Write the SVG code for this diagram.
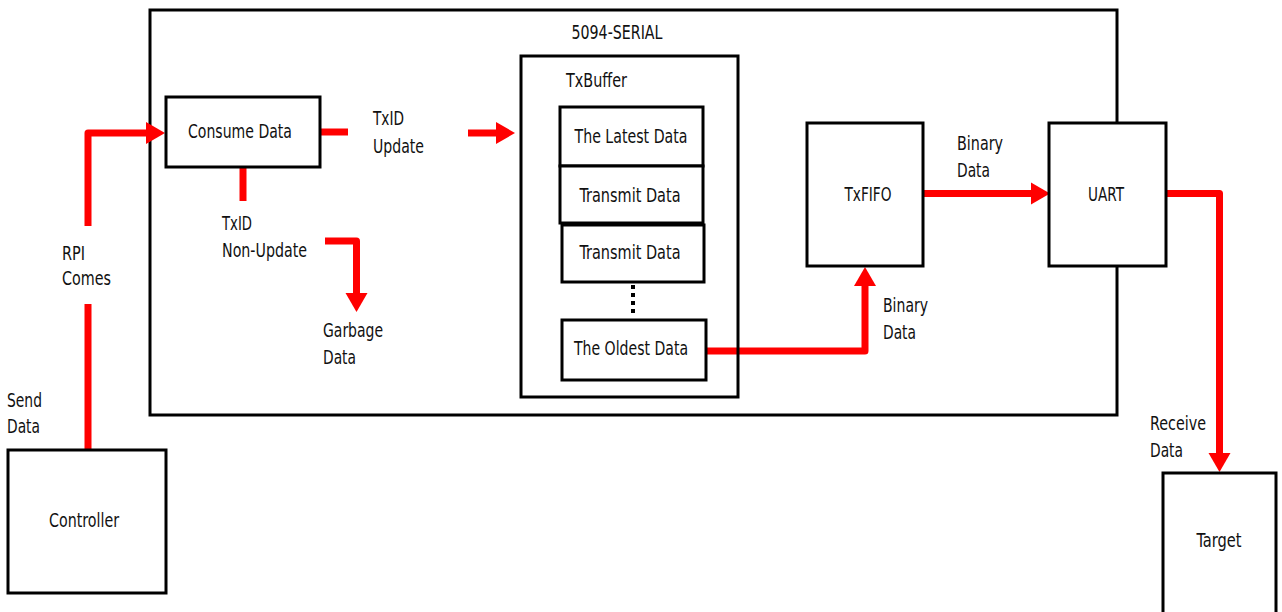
<svg xmlns="http://www.w3.org/2000/svg" width="1282" height="612" viewBox="0 0 1282 612">
  <style>
    .box { fill: #ffffff; stroke: #000000; stroke-width: 3; }
    .frame { fill: none; stroke: #000000; stroke-width: 3; }
    .lbl { font-family: "DejaVu Sans Condensed", "DejaVu Sans", "Liberation Sans", sans-serif; font-stretch: condensed; font-size: 20px; fill: #111111; }
    .ctr { text-anchor: middle; }
    .wire { fill: none; stroke: #ff0000; stroke-width: 7; stroke-linejoin: round; }
    .dots { fill: none; stroke: #000000; stroke-width: 4; stroke-dasharray: 4 4; }
  </style>
  <defs>
    <marker id="ah" markerUnits="userSpaceOnUse" markerWidth="20" markerHeight="24" refX="0" refY="11" orient="auto" overflow="visible">
      <path d="M0,0 L19,11 L0,22 Z" fill="#ff0000"/>
    </marker>
  </defs>

  <g id="serial">
    <rect class="frame" x="150" y="10" width="967" height="405"/>
    <text class="lbl ctr" x="617" y="39" textLength="91" lengthAdjust="spacingAndGlyphs">5094-SERIAL</text>
  </g>

  <g id="connectors">
    <path class="wire" d="M88,450 V304"/>
    <path class="wire" d="M88,226 V133 H146" marker-end="url(#ah)"/>
    <path class="wire" d="M320,132 H348"/>
    <path class="wire" d="M468,133 H496" marker-end="url(#ah)"/>
    <path class="wire" d="M243,167 V201"/>
    <path class="wire" d="M325,241 H356.5 V293" marker-end="url(#ah)"/>
    <path class="wire" d="M706,351 H865 V286" marker-end="url(#ah)"/>
    <path class="wire" d="M923,193.5 H1031" marker-end="url(#ah)"/>
    <path class="wire" d="M1166,193.5 H1219.5 V453" marker-end="url(#ah)"/>
    <path class="dots" d="M633,285 V317"/>
  </g>

  <g id="consume">
    <rect class="box" x="166" y="97" width="154" height="70"/>
    <text class="lbl ctr" x="240" y="138" textLength="104" lengthAdjust="spacingAndGlyphs">Consume Data</text>
  </g>

  <g id="txbuffer">
    <rect class="frame" x="521" y="56" width="217" height="341"/>
    <text class="lbl" x="566" y="87" textLength="61" lengthAdjust="spacingAndGlyphs">TxBuffer</text>
  </g>
  <g id="latest">
    <rect class="box" x="560" y="107" width="143" height="59"/>
    <text class="lbl ctr" x="631" y="143" textLength="113" lengthAdjust="spacingAndGlyphs">The Latest Data</text>
  </g>
  <g id="transmit1">
    <rect class="box" x="560" y="166" width="143" height="57"/>
    <text class="lbl ctr" x="630" y="202" textLength="101" lengthAdjust="spacingAndGlyphs">Transmit Data</text>
  </g>
  <g id="transmit2">
    <rect class="box" x="562" y="225" width="142" height="57"/>
    <text class="lbl ctr" x="630" y="259" textLength="101" lengthAdjust="spacingAndGlyphs">Transmit Data</text>
  </g>
  <g id="oldest">
    <rect class="box" x="562" y="320" width="144" height="60"/>
    <text class="lbl ctr" x="631" y="355" textLength="114" lengthAdjust="spacingAndGlyphs">The Oldest Data</text>
  </g>

  <g id="txfifo">
    <rect class="box" x="807" y="123" width="116" height="143"/>
    <text class="lbl ctr" x="868" y="201" textLength="47" lengthAdjust="spacingAndGlyphs">TxFIFO</text>
  </g>
  <g id="uart">
    <rect class="box" x="1049" y="123" width="117" height="143"/>
    <text class="lbl ctr" x="1106" y="201" textLength="36" lengthAdjust="spacingAndGlyphs">UART</text>
  </g>
  <g id="controller">
    <rect class="box" x="8" y="450" width="158" height="143"/>
    <text class="lbl ctr" x="84" y="527" textLength="70" lengthAdjust="spacingAndGlyphs">Controller</text>
  </g>
  <g id="target">
    <rect class="box" x="1163" y="473" width="113" height="150"/>
    <text class="lbl ctr" x="1219" y="547" textLength="45" lengthAdjust="spacingAndGlyphs">Target</text>
  </g>

  <g id="labels">
    <text class="lbl" x="62" y="260" textLength="23" lengthAdjust="spacingAndGlyphs">RPI</text>
    <text class="lbl" x="62" y="285" textLength="49" lengthAdjust="spacingAndGlyphs">Comes</text>
    <text class="lbl" x="7" y="407" textLength="35" lengthAdjust="spacingAndGlyphs">Send</text>
    <text class="lbl" x="7" y="433" textLength="33" lengthAdjust="spacingAndGlyphs">Data</text>
    <text class="lbl" x="373" y="125" textLength="31" lengthAdjust="spacingAndGlyphs">TxID</text>
    <text class="lbl" x="373" y="153" textLength="51" lengthAdjust="spacingAndGlyphs">Update</text>
    <text class="lbl" x="222" y="230" textLength="30" lengthAdjust="spacingAndGlyphs">TxID</text>
    <text class="lbl" x="222" y="257" textLength="85" lengthAdjust="spacingAndGlyphs">Non-Update</text>
    <text class="lbl" x="323" y="337" textLength="60" lengthAdjust="spacingAndGlyphs">Garbage</text>
    <text class="lbl" x="323" y="364" textLength="33" lengthAdjust="spacingAndGlyphs">Data</text>
    <text class="lbl" x="957" y="150" textLength="46" lengthAdjust="spacingAndGlyphs">Binary</text>
    <text class="lbl" x="957" y="177" textLength="33" lengthAdjust="spacingAndGlyphs">Data</text>
    <text class="lbl" x="883" y="312" textLength="45" lengthAdjust="spacingAndGlyphs">Binary</text>
    <text class="lbl" x="883" y="339" textLength="33" lengthAdjust="spacingAndGlyphs">Data</text>
    <text class="lbl" x="1150" y="430" textLength="56" lengthAdjust="spacingAndGlyphs">Receive</text>
    <text class="lbl" x="1150" y="457" textLength="33" lengthAdjust="spacingAndGlyphs">Data</text>
  </g>
</svg>
